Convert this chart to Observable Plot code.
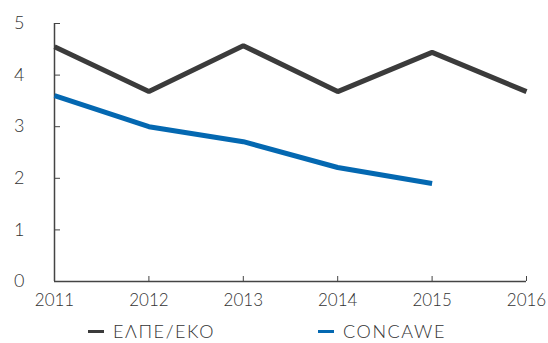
<!DOCTYPE html>
<html>
<head>
<meta charset="utf-8">
<script src="https://cdn.jsdelivr.net/npm/d3@7"></script>
<script src="https://cdn.jsdelivr.net/npm/@observablehq/plot@0.6"></script>
<style>
  body { margin: 0; background: #fff; font-family: Lato, "Noto Sans", sans-serif; overflow: hidden; }
  #legend { position: relative; height: 25px; font-size: 18px; color: #333; font-weight: 300; letter-spacing: 1.6px; }
  .item { position: absolute; top: 3px; display: flex; align-items: center; height: 20px; line-height: 20px; white-space: nowrap; }
  .sw { width: 16px; height: 3px; margin-right: 9px; }
</style>
</head>
<body>
<div id="chart"></div>
<div id="legend"></div>
<script>
const years = [2011, 2012, 2013, 2014, 2015, 2016];
const elpeValues = [4.55, 3.68, 4.57, 3.68, 4.44, 3.68];
const concaweYears = [2011, 2012, 2013, 2014, 2015];
const concaweValues = [3.6, 3.0, 2.71, 2.21, 1.9];
const seriesNames = ["ΕΛΠΕ/ΕΚΟ", "CONCAWE"];
const seriesColors = ["#3b3b3b", "#0468b1"];
const yTicks = [0, 1, 2, 3, 4, 5];

const data = [
  ...years.map((y, i) => ({year: y, value: elpeValues[i], series: seriesNames[0]})),
  ...concaweYears.map((y, i) => ({year: y, value: concaweValues[i], series: seriesNames[1]}))
];

const chart = Plot.plot({
  width: 548,
  height: 318,
  marginTop: 23,
  marginBottom: 37,
  marginLeft: 54,
  marginRight: 22,
  style: {fontFamily: "Lato, 'Noto Sans', sans-serif", color: "#333", background: "#fff", fontWeight: 300},
  x: {domain: [2011, 2016], label: null},
  y: {domain: [0, 5], label: null},
  color: {domain: seriesNames, range: seriesColors},
  marks: [
    Plot.axisY({ticks: yTicks, tickSize: -6, tickPadding: 36, tickFormat: d => String(d), fontSize: 18, stroke: "#444", color: "#333", label: null}),
    Plot.axisX({ticks: years, tickSize: -5, tickPadding: 17, tickFormat: d => String(d), fontSize: 17, stroke: "#444", color: "#333", label: null}),
    Plot.ruleX([2011], {stroke: "#444", strokeWidth: 1.5}),
    Plot.ruleY([0], {stroke: "#444", strokeWidth: 1.5}),
    Plot.lineY(data, {x: "year", y: "value", z: "series", stroke: "series", strokeWidth: 5, strokeLinejoin: "miter", strokeLinecap: "butt"})
  ]
});
document.getElementById("chart").appendChild(chart);

const legend = document.getElementById("legend");
const lefts = [88, 318];
seriesNames.forEach((name, i) => {
  const it = document.createElement("div");
  it.className = "item";
  it.style.left = lefts[i] + "px";
  const sw = document.createElement("span");
  sw.className = "sw";
  sw.style.background = seriesColors[i];
  it.appendChild(sw);
  const t = document.createElement("span");
  t.textContent = name;
  it.appendChild(t);
  legend.appendChild(it);
});
</script>
</body>
</html>
